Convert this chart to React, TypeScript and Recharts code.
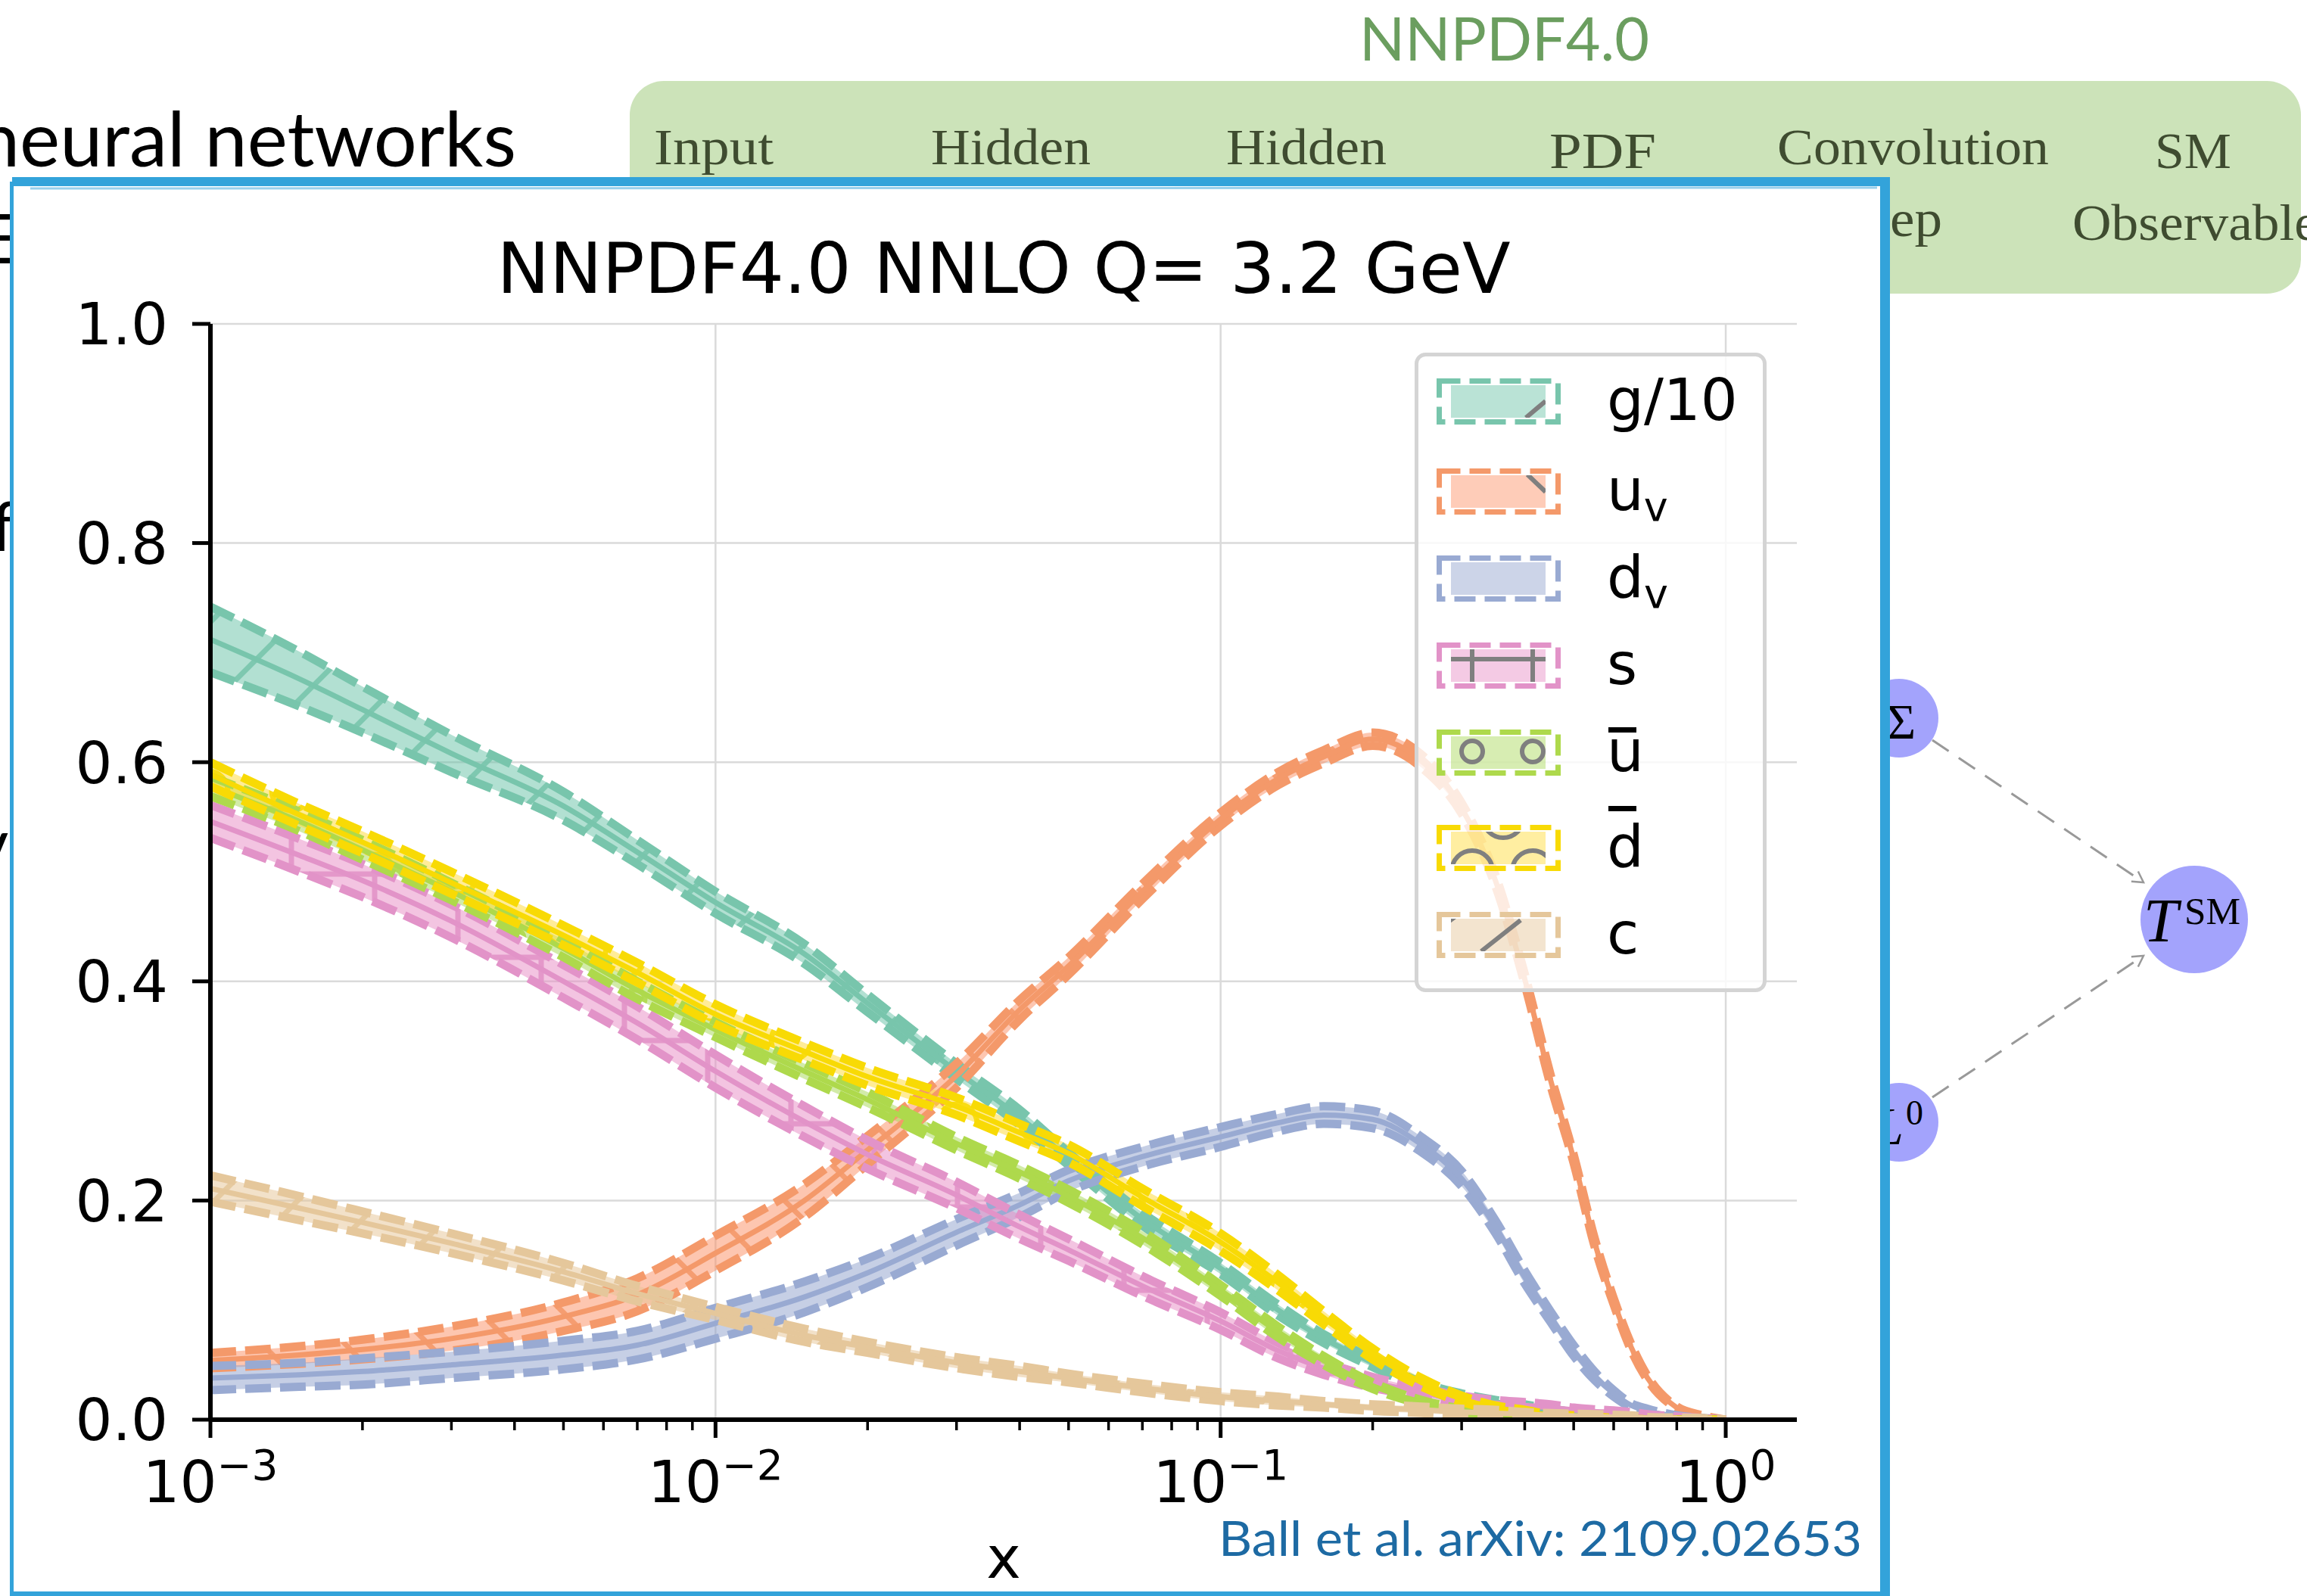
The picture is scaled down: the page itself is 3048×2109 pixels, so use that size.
import React from "react";
import { ComposedChart, Area, Line, XAxis, YAxis, CartesianGrid, Legend } from "recharts";

// x points the bands are read at
const X = [0.001, 0.0015, 0.002, 0.003, 0.005, 0.007, 0.01, 0.015, 0.02, 0.03, 0.04, 0.05, 0.07, 0.1, 0.13, 0.16, 0.2, 0.25, 0.3, 0.35, 0.4, 0.45, 0.5, 0.55, 0.6, 0.65, 0.7, 0.8, 0.9, 1.0];

// central values and half widths of the bands
const G10 = [0.712, 0.676, 0.648, 0.608, 0.56, 0.518, 0.472, 0.425, 0.38, 0.318, 0.276, 0.238, 0.183, 0.138, 0.1, 0.074, 0.052, 0.031, 0.021, 0.016, 0.012, 0.008, 0.006, 0.004, 0.003, 0.002, 0.0015, 0.0008, 0.0003, 0];
const G10_ERR = [0.03, 0.025, 0.021, 0.017, 0.013, 0.011, 0.01, 0.009, 0.008, 0.007, 0.007, 0.006, 0.006, 0.005, 0.005, 0.004, 0.004, 0.003, 0.003, 0.002, 0.002, 0.002, 0.001, 0.001, 0.001, 0.001, 0.001, 0.0005, 0.0003, 0];
const UV = [0.054, 0.059, 0.064, 0.074, 0.094, 0.114, 0.152, 0.2, 0.246, 0.314, 0.374, 0.414, 0.482, 0.548, 0.585, 0.605, 0.621, 0.601, 0.558, 0.492, 0.402, 0.31, 0.238, 0.162, 0.108, 0.066, 0.038, 0.011, 0.003, 0];
const UV_ERR = [0.007, 0.008, 0.009, 0.011, 0.013, 0.015, 0.016, 0.015, 0.013, 0.011, 0.009, 0.008, 0.007, 0.006, 0.006, 0.006, 0.006, 0.006, 0.005, 0.005, 0.005, 0.005, 0.004, 0.004, 0.003, 0.003, 0.002, 0.001, 0.001, 0];
const DV = [0.038, 0.041, 0.044, 0.05, 0.059, 0.068, 0.088, 0.112, 0.134, 0.171, 0.196, 0.218, 0.24, 0.258, 0.271, 0.278, 0.274, 0.251, 0.22, 0.176, 0.13, 0.094, 0.063, 0.04, 0.024, 0.013, 0.008, 0.003, 0.001, 0];
const DV_ERR = [0.011, 0.011, 0.012, 0.012, 0.013, 0.013, 0.014, 0.014, 0.013, 0.012, 0.011, 0.01, 0.009, 0.009, 0.008, 0.008, 0.008, 0.007, 0.007, 0.006, 0.006, 0.005, 0.005, 0.004, 0.003, 0.002, 0.002, 0.001, 0.0005, 0];
const S = [0.546, 0.515, 0.492, 0.455, 0.4, 0.362, 0.318, 0.272, 0.242, 0.205, 0.176, 0.155, 0.122, 0.09, 0.063, 0.047, 0.034, 0.025, 0.018, 0.015, 0.013, 0.011, 0.009, 0.0075, 0.0065, 0.005, 0.004, 0.002, 0.001, 0];
const S_ERR = [0.015, 0.015, 0.015, 0.015, 0.015, 0.015, 0.015, 0.014, 0.013, 0.012, 0.011, 0.01, 0.009, 0.008, 0.007, 0.006, 0.005, 0.004, 0.004, 0.003, 0.003, 0.003, 0.002, 0.002, 0.002, 0.002, 0.001, 0.001, 0.0005, 0];
const UBAR = [0.578, 0.546, 0.52, 0.482, 0.43, 0.392, 0.356, 0.318, 0.292, 0.252, 0.226, 0.204, 0.166, 0.118, 0.08, 0.054, 0.031, 0.016, 0.008, 0.004, 0.002, 0.001, 0.0006, 0.0004, 0.0002, 0.0001, 0, 0, 0, 0];
const UBAR_ERR = [0.009, 0.009, 0.009, 0.008, 0.008, 0.008, 0.007, 0.007, 0.007, 0.006, 0.006, 0.006, 0.006, 0.005, 0.005, 0.004, 0.003, 0.002, 0.002, 0.001, 0.001, 0.001, 0.0005, 0.0005, 0.0003, 0.0002, 0, 0, 0, 0];
const DBAR = [0.589, 0.552, 0.527, 0.49, 0.442, 0.408, 0.37, 0.336, 0.313, 0.286, 0.262, 0.243, 0.203, 0.162, 0.125, 0.093, 0.06, 0.034, 0.019, 0.011, 0.007, 0.004, 0.003, 0.002, 0.001, 0.0005, 0.0003, 0, 0, 0];
const DBAR_ERR = [0.011, 0.01, 0.01, 0.01, 0.009, 0.009, 0.009, 0.008, 0.008, 0.008, 0.008, 0.008, 0.008, 0.008, 0.007, 0.006, 0.005, 0.004, 0.003, 0.002, 0.002, 0.001, 0.001, 0.001, 0.0005, 0.0003, 0.0002, 0, 0, 0];
const CQ = [0.211, 0.193, 0.18, 0.161, 0.135, 0.115, 0.097, 0.077, 0.066, 0.052, 0.044, 0.038, 0.029, 0.021, 0.017, 0.014, 0.011, 0.009, 0.007, 0.006, 0.005, 0.004, 0.0035, 0.003, 0.0025, 0.002, 0.0015, 0.001, 0.0005, 0];
const CQ_ERR = [0.012, 0.011, 0.01, 0.009, 0.008, 0.007, 0.006, 0.006, 0.005, 0.005, 0.005, 0.004, 0.004, 0.004, 0.004, 0.003, 0.003, 0.003, 0.003, 0.003, 0.002, 0.002, 0.002, 0.002, 0.002, 0.002, 0.001, 0.001, 0.001, 0];

// ticks
const X_MAJOR = [0.001, 0.01, 0.1, 1];
const X_MAJOR_EXP = ["\u22123", "\u22122", "\u22121", "0"];
const X_MINOR = [0.002, 0.003, 0.004, 0.005, 0.006, 0.007, 0.008, 0.009, 0.02, 0.03, 0.04, 0.05, 0.06, 0.07, 0.08, 0.09, 0.2, 0.3, 0.4, 0.5, 0.6, 0.7, 0.8, 0.9];
const Y_TICKS = [0, 0.2, 0.4, 0.6, 0.8, 1.0];

const W = 3048;
const H = 2109;
const FONT = "'DejaVu Sans', sans-serif";
const BLUE = "#33a3da";

type Pdf = { key: string; vals: number[]; err: number[]; base: string; line: string; hatch: string };

const PDFS: Pdf[] = [
  { key: "g", vals: G10, err: G10_ERR, base: "#66c2a5", line: "#78c5ac", hatch: "slash" },
  { key: "uv", vals: UV, err: UV_ERR, base: "#fc8d62", line: "#f4996a", hatch: "back" },
  { key: "dv", vals: DV, err: DV_ERR, base: "#8da0cb", line: "#99aad2", hatch: "none" },
  { key: "s", vals: S, err: S_ERR, base: "#e78ac3", line: "#e293c8", hatch: "plus" },
  { key: "ub", vals: UBAR, err: UBAR_ERR, base: "#a6d854", line: "#aed94c", hatch: "o" },
  { key: "db", vals: DBAR, err: DBAR_ERR, base: "#ffd92f", line: "#f8da05", hatch: "O" },
  { key: "c", vals: CQ, err: CQ_ERR, base: "#e5c494", line: "#e5c79b", hatch: "slash" },
];

const data = X.map((x, i) => {
  const row: Record<string, unknown> = { x };
  PDFS.forEach((p) => {
    const lo = Math.max(0, p.vals[i] - p.err[i]);
    const hi = p.vals[i] + p.err[i];
    row[p.key] = p.vals[i];
    row[p.key + "Lo"] = lo;
    row[p.key + "Hi"] = hi;
    row[p.key + "Band"] = [lo, hi];
  });
  return row;
});

function hatchPattern(p: Pdf) {
  const st = { stroke: p.line, strokeWidth: 7, fill: "none" };
  let size = 110;
  let shape: React.ReactNode = null;
  if (p.hatch === "slash") shape = <path d="M-20,20 L20,-20 M0,110 L110,0 M90,130 L130,90" {...st} />;
  if (p.hatch === "back") shape = <path d="M-20,90 L20,130 M0,0 L110,110 M90,-20 L130,20" {...st} />;
  if (p.hatch === "plus") shape = <path d="M55,0 V110 M0,55 H110" {...st} />;
  if (p.hatch === "o") {
    size = 80;
    shape = <circle cx={40} cy={40} r={12} {...st} />;
  }
  if (p.hatch === "O") shape = <circle cx={55} cy={55} r={26} {...st} />;
  if (!shape) return null;
  return (
    <pattern key={p.key} id={`hatch-${p.key}`} width={size} height={size} patternUnits="userSpaceOnUse">
      {shape}
    </pattern>
  );
}

function XTick(props: any) {
  const { x, y, payload } = props;
  const idx = X_MAJOR.findIndex((v) => Math.abs(v - payload.value) < 1e-9);
  const major = idx >= 0;
  return (
    <g>
      <line x1={x} x2={x} y1={y} y2={y + (major ? 24 : 14)} stroke="#000" strokeWidth={major ? 5 : 3.5} />
      {major && (
        <text x={x} y={y + 109} textAnchor="middle" fontFamily={FONT} fontSize={77} fill="#000">
          10
          <tspan dy={-30} fontSize={55}>
            {X_MAJOR_EXP[idx]}
          </tspan>
        </text>
      )}
    </g>
  );
}

// legend rows, tops in legend-box pixels
const LEGEND_ROWS = [
  { key: "g", text: "g/10", top: 34 },
  { key: "uv", text: "u", sub: "v", top: 153 },
  { key: "dv", text: "d", sub: "v", top: 268 },
  { key: "s", text: "s", top: 383 },
  { key: "ub", text: "u", bar: 58, top: 498 },
  { key: "db", text: "d", bar: 80, top: 624 },
  { key: "c", text: "c", top: 739 },
];

function legendHatch(key: string, t: number) {
  const st = { stroke: "#7f7f7f", strokeWidth: 6, fill: "none" };
  if (key === "g") return <path d={`M147,${t + 52} L173,${t + 30}`} {...st} />;
  if (key === "uv") return <path d={`M149,${t + 8} L173,${t + 31}`} {...st} />;
  if (key === "s") return <path d={`M48,${t + 22} H173 M76,${t + 8} V${t + 52} M156,${t + 8} V${t + 52}`} {...st} />;
  if (key === "ub")
    return (
      <g {...st}>
        <circle cx={76} cy={t + 29} r={14} />
        <circle cx={156} cy={t + 29} r={14} />
      </g>
    );
  if (key === "db")
    return (
      <g {...st}>
        <circle cx={76} cy={t + 61} r={27} />
        <circle cx={156} cy={t + 61} r={27} />
        <circle cx={117} cy={t - 10} r={27} />
      </g>
    );
  if (key === "c") return <path d={`M88,${t + 52} L140,${t + 11} M30,${t + 24} L62,${t}`} {...st} />;
  return null;
}

function PdfLegend() {
  return (
    <svg width={466} height={846} style={{ display: "block" }}>
      <defs>
        {LEGEND_ROWS.map((r, i) => (
          <clipPath key={r.key} id={`lg-clip-${i}`}>
            <rect x={48} y={r.top + 9} width={125} height={43} />
          </clipPath>
        ))}
      </defs>
      <rect x={2.5} y={2.5} width={460} height={840} rx={12} fill="#fff" fillOpacity={0.8} stroke="#d4d4d4" strokeWidth={5} />
      {LEGEND_ROWS.map((r, i) => {
        const p = PDFS.find((q) => q.key === r.key)!;
        const base = r.top + 55;
        return (
          <g key={r.key}>
            <rect x={48} y={r.top + 9} width={125} height={43} fill={p.base} fillOpacity={0.45} />
            <g clipPath={`url(#lg-clip-${i})`}>{legendHatch(r.key, r.top)}</g>
            <rect x={32.5} y={r.top + 3.5} width={157} height={54} fill="none" stroke={p.line} strokeWidth={7} strokeDasharray="28 12" />
            <text x={254} y={base} fontFamily={FONT} fontSize={77} fill="#000">
              {r.text}
              {r.sub && (
                <tspan dy={14} fontSize={54}>
                  {r.sub}
                </tspan>
              )}
            </text>
            {r.bar && <rect x={256} y={base - r.bar} width={37} height={7} fill="#000" />}
          </g>
        );
      })}
    </svg>
  );
}

function Slide() {
  const serif = "'Liberation Serif', serif";
  const ink = "#3f4c30";
  return (
    <svg width={W} height={H} style={{ position: "absolute", left: 0, top: 0 }}>
      <defs>
        <marker id="arrow" markerWidth={20} markerHeight={20} refX={16} refY={10} orient="auto" markerUnits="userSpaceOnUse">
          <path d="M2,2 L16,10 L2,18" fill="none" stroke="#999" strokeWidth={2.5} />
        </marker>
      </defs>
      <text x={1796} y={80} fontFamily="Lato" fontSize={80} fill="#6b9e5f" textLength={383} lengthAdjust="spacingAndGlyphs">
        NNPDF4.0
      </text>
      <rect x={832} y={107} width={2208} height={281} rx={45} fill="#cce3b9" />
      <g fontFamily={serif} fontSize={68} fill={ink}>
        <text x={864} y={217} textLength={158} lengthAdjust="spacingAndGlyphs">Input</text>
        <text x={1230} y={217} textLength={211} lengthAdjust="spacingAndGlyphs">Hidden</text>
        <text x={1620} y={217} textLength={212} lengthAdjust="spacingAndGlyphs">Hidden</text>
        <text x={2047} y={222} textLength={141} lengthAdjust="spacingAndGlyphs">PDF</text>
        <text x={2348} y={217} textLength={359} lengthAdjust="spacingAndGlyphs">Convolution</text>
        <text x={2847} y={222} textLength={101} lengthAdjust="spacingAndGlyphs">SM</text>
        <text x={2436} y={312} textLength={130} lengthAdjust="spacingAndGlyphs">Step</text>
        <text x={2738} y={317} textLength={325} lengthAdjust="spacingAndGlyphs">Observable</text>
      </g>
      <g fontFamily="Lato" fontSize={100} fill="#000">
        <text x={-30} y={220} textLength={712} lengthAdjust="spacingAndGlyphs">neural networks</text>
        <text x={-22} y={348} fontSize={92}>E</text>
        <text x={-12} y={728} fontSize={92}>f</text>
        <text x={-36} y={1147} fontSize={92}>v</text>
      </g>
      {/* network nodes on the right */}
      <circle cx={2509} cy={949} r={52} fill="#a3a3fc" />
      <circle cx={2509} cy={1483} r={52} fill="#a3a3fc" />
      <circle cx={2899} cy={1215} r={71} fill="#a3a3fc" />
      <text x={2512} y={976} textAnchor="middle" fontFamily={serif} fontSize={66} fill="#000">Σ</text>
      <text x={2476} y={1512} fontFamily={serif} fontStyle="italic" fontSize={70} fill="#000">L</text>
      <text x={2518} y={1486} fontFamily={serif} fontSize={46} fill="#000">0</text>
      <text x={2832} y={1244} fontFamily={serif} fontStyle="italic" fontSize={82} fill="#000">T</text>
      <text x={2886} y={1221} fontFamily={serif} fontSize={50} fill="#000" textLength={74} lengthAdjust="spacingAndGlyphs">SM</text>
      <line x1={2553} y1={978} x2={2832} y2={1166} stroke="#999" strokeWidth={3} strokeDasharray="26 16" markerEnd="url(#arrow)" />
      <line x1={2553} y1={1450} x2={2832} y2={1263} stroke="#999" strokeWidth={3} strokeDasharray="26 16" markerEnd="url(#arrow)" />
      {/* chart frame */}
      <rect x={16} y={240} width={2475} height={1880} fill="#fff" />
      <rect x={16} y={234} width={2481} height={12} fill={BLUE} />
      <line x1={40} y1={249} x2={2480} y2={248} stroke={BLUE} strokeWidth={3} opacity={0.5} />
      <rect x={2484} y={234} width={13} height={1875} fill={BLUE} />
      <rect x={13} y={240} width={5} height={1869} fill={BLUE} />
      <rect x={13} y={2103} width={2484} height={6} fill={BLUE} />
      <text x={1326} y={387} textAnchor="middle" fontFamily={FONT} fontSize={93} fill="#000">
        NNPDF4.0 NNLO Q= 3.2 GeV
      </text>
      <text x={1610} y={2056} fontFamily="Lato" fontSize={64} fill="#1d6aa3" textLength={850} lengthAdjust="spacingAndGlyphs">
        Ball et al. arXiv: 2109.02653
      </text>
    </svg>
  );
}

export default function App() {
  return (
    <div style={{ position: "absolute", left: 0, top: 0, width: W, height: H, overflow: "hidden", background: "#fff" }}>
      <Slide />
      <div style={{ position: "absolute", left: 0, top: 0 }}>
        <ComposedChart width={W} height={H} data={data} margin={{ top: 428, right: 674, bottom: 0, left: 78 }}>
          <defs>{PDFS.map(hatchPattern)}</defs>
          <CartesianGrid stroke="#dadada" strokeWidth={2.5} verticalValues={X_MAJOR} horizontalValues={Y_TICKS} />
          <XAxis
            dataKey="x"
            type="number"
            scale="log"
            domain={[0.001, 1.383]}
            allowDataOverflow
            ticks={[...X_MAJOR, ...X_MINOR].sort((a, b) => a - b)}
            interval={0}
            tick={XTick}
            tickLine={false}
            tickSize={0}
            tickMargin={0}
            height={233}
            axisLine={{ stroke: "#000", strokeWidth: 6 }}
            label={{ value: "x", position: "insideBottom", offset: 24, fontSize: 77, fontFamily: FONT, fill: "#000" }}
          />
          <YAxis
            type="number"
            domain={[0, 1]}
            allowDataOverflow
            ticks={Y_TICKS}
            width={200}
            tickSize={24}
            tickMargin={32}
            tickFormatter={(v: number) => v.toFixed(1)}
            tick={{ fontSize: 77, fontFamily: FONT, fill: "#000" }}
            tickLine={{ stroke: "#000", strokeWidth: 5 }}
            axisLine={{ stroke: "#000", strokeWidth: 6 }}
          />
          {PDFS.map((p) => [
            <Area
              key={p.key + "band"}
              type="monotone"
              dataKey={p.key + "Band"}
              fill={p.base}
              fillOpacity={0.5}
              stroke="none"
              dot={false}
              activeDot={false}
              legendType="none"
              isAnimationActive={false}
            />,
            p.hatch !== "none" ? (
              <Area
                key={p.key + "hatch"}
                type="monotone"
                dataKey={p.key + "Band"}
                fill={`url(#hatch-${p.key})`}
                fillOpacity={0.9}
                stroke="none"
                dot={false}
                activeDot={false}
                legendType="none"
                isAnimationActive={false}
              />
            ) : null,
            <Line
              key={p.key + "lo"}
              type="monotone"
              dataKey={p.key + "Lo"}
              stroke={p.line}
              strokeWidth={11}
              strokeDasharray="34 12"
              dot={false}
              activeDot={false}
              legendType="none"
              isAnimationActive={false}
            />,
            <Line
              key={p.key + "hi"}
              type="monotone"
              dataKey={p.key + "Hi"}
              stroke={p.line}
              strokeWidth={11}
              strokeDasharray="34 12"
              dot={false}
              activeDot={false}
              legendType="none"
              isAnimationActive={false}
            />,
            <Line
              key={p.key + "cv"}
              type="monotone"
              dataKey={p.key}
              stroke={p.line}
              strokeWidth={7}
              dot={false}
              activeDot={false}
              legendType="none"
              isAnimationActive={false}
            />,
          ])}
          <Legend
            content={() => <PdfLegend />}
            layout="vertical"
            align="center"
            verticalAlign="middle"
            wrapperStyle={{ left: 1869, top: 466, width: 466, height: 846 }}
          />
        </ComposedChart>
      </div>
    </div>
  );
}
